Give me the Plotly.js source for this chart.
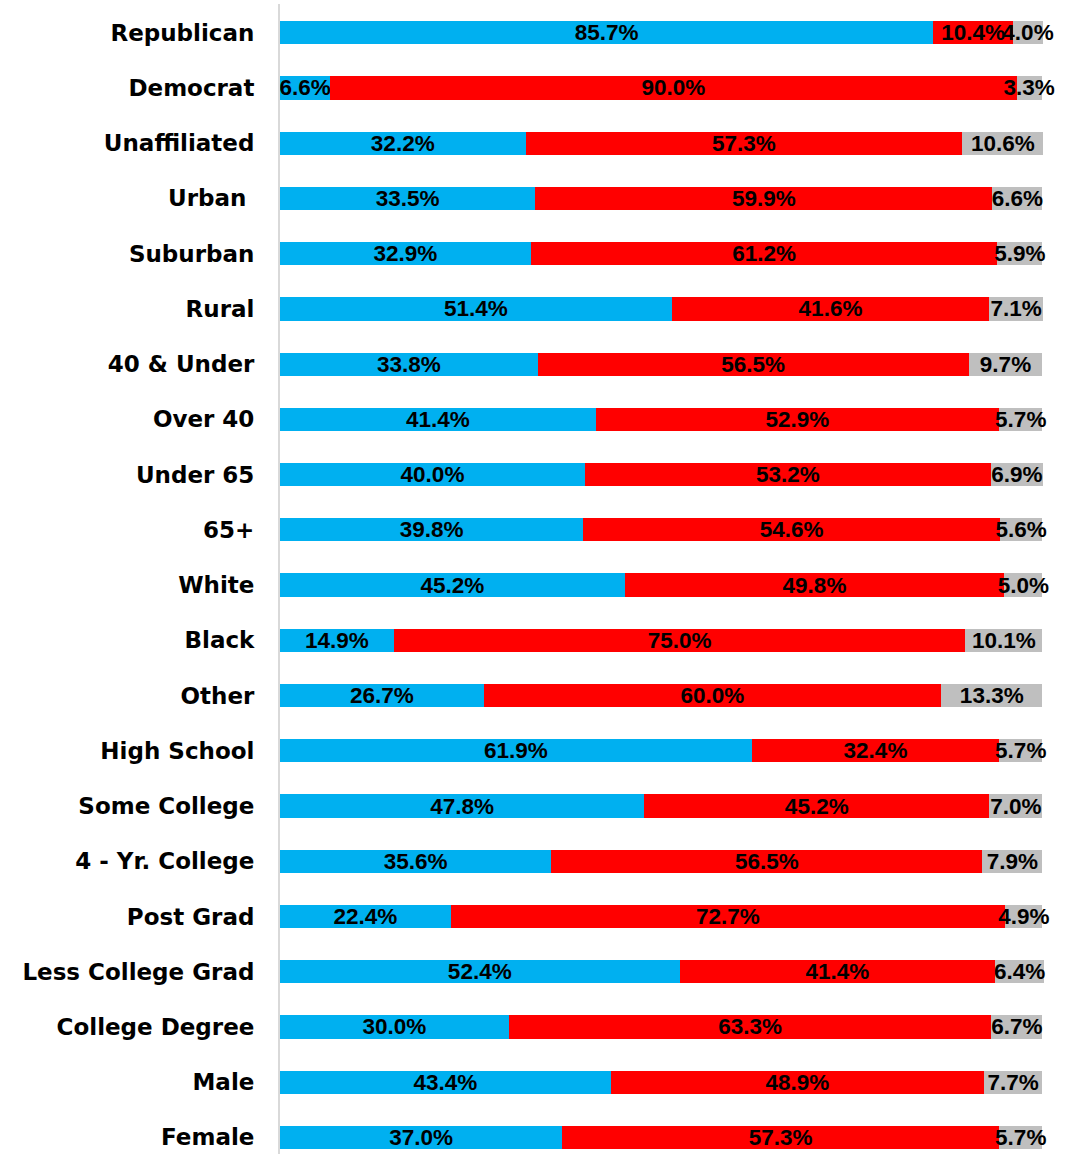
<!DOCTYPE html>
<html><head><meta charset="utf-8">
<script src="https://cdn.plot.ly/plotly-3.0.1.min.js"></script>
<style>html,body{margin:0;padding:0;background:#fff;}</style>
</head><body><div id="chart" style="width:1084px;height:1154px;"></div>
<script>
const categories = ["Republican","Democrat","Unaffiliated","Urban\u00a0","Suburban","Rural","40 & Under","Over 40","Under 65","65+","White","Black","Other","High School","Some College","4 - Yr. College","Post Grad","Less College Grad","College Degree","Male","Female"];
const blueValues = [85.7,6.6,32.2,33.5,32.9,51.4,33.8,41.4,40.0,39.8,45.2,14.9,26.7,61.9,47.8,35.6,22.4,52.4,30.0,43.4,37.0];
const redValues  = [10.4,90.0,57.3,59.9,61.2,41.6,56.5,52.9,53.2,54.6,49.8,75.0,60.0,32.4,45.2,56.5,72.7,41.4,63.3,48.9,57.3];
const grayValues = [4.0,3.3,10.6,6.6,5.9,7.1,9.7,5.7,6.9,5.6,5.0,10.1,13.3,5.7,7.0,7.9,4.9,6.4,6.7,7.7,5.7];

const labelFont = {family: "Liberation Sans, Arial, sans-serif", size: 22.5, color: "#000", weight: 700};
function mk(vals, color) {
  return {
    type: "bar", orientation: "h", y: categories, x: vals,
    marker: {color: color, line: {width: 0}},
    text: vals.map(v => v.toFixed(1) + "%"),
    textposition: "inside", insidetextanchor: "middle",
    textfont: labelFont, cliponaxis: false, hoverinfo: "skip"
  };
}
const data = [mk(blueValues, "#00B0F0"), mk(redValues, "#FF0000"), mk(grayValues, "#BFBFBF")];
const layout = {
  width: 1084, height: 1154,
  margin: {l: 280, r: 40, t: 4, b: 0},
  barmode: "stack", bargap: 0.58,
  showlegend: false,
  paper_bgcolor: "#fff", plot_bgcolor: "#fff",
  uniformtext: {mode: "show", minsize: 22.5},
  xaxis: {range: [0, 100.2], visible: false, fixedrange: true},
  yaxis: {
    type: "category", range: [20.3, -0.52],
    showline: true, linecolor: "#D9D9D9", linewidth: 2,
    showgrid: false, zeroline: false, ticks: "",
    ticklabelstandoff: 19,
    tickfont: {family: "DejaVu Sans, sans-serif", size: 23, color: "#000", weight: 700}
  }
};
Plotly.newPlot("chart", data, layout, {staticPlot: true});
</script></body></html>
